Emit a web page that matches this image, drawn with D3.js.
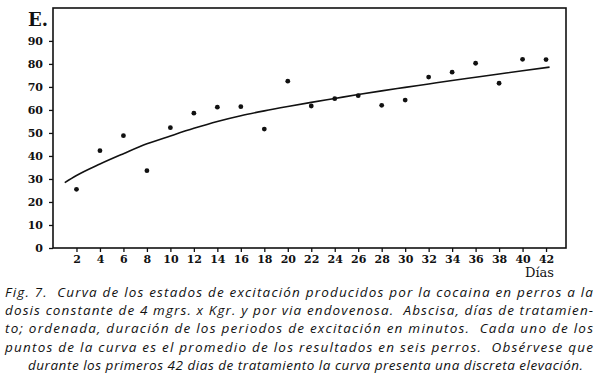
<!DOCTYPE html>
<html>
<head>
<meta charset="utf-8">
<script src="https://cdn.jsdelivr.net/npm/d3@7"></script>
<style>
  body { margin: 0; background: #fff; }
  .tick text { font-family: "DejaVu Serif", serif; font-weight: bold; }
</style>
</head>
<body>
<div id="chart"></div>
<script>
// days of treatment and mean excitation time (minutes)
var days = [2, 4, 6, 8, 10, 12, 14, 16, 18, 20, 22, 24, 26, 28, 30, 32, 34, 36, 38, 40, 42];
var excitation = [25.5, 42.3, 48.8, 33.6, 52.3, 58.6, 61.2, 61.4, 51.7, 72.5, 61.7, 64.9, 66.2, 62.0, 64.3, 74.3, 76.4, 80.3, 71.6, 82.0, 81.9];

// fitted curve
var curveDays = [1, 2, 4, 6, 8, 10, 12, 14, 16, 18, 20, 22, 24, 26, 28, 30, 32, 34, 36, 38, 40, 42.3];
var curveVals = [28.4, 31.5, 36.5, 41, 45.3, 48.7, 52, 55, 57.5, 59.6, 61.5, 63.3, 65, 66.7, 68.3, 69.8, 71.3, 72.8, 74.2, 75.6, 77, 78.6];

var xTicks = d3.range(2, 43, 2);
var yTicks = d3.range(0, 91, 10);

var caption = [
  "Fig. 7.  Curva de los estados de excitación producidos por la cocaina en perros a la",
  "dosis constante de 4 mgrs. x Kgr. y por via endovenosa.  Abscisa, días de tratamien-",
  "to; ordenada, duración de los periodos de excitación en minutos.  Cada uno de los",
  "puntos de la curva es el promedio de los resultados en seis perros.  Obsérvese que",
  "durante los primeros 42 dias de tratamiento la curva presenta una discreta elevación."
];

var width = 600, height = 377;
var plotLeft = 53, plotRight = 566, plotTop = 8, plotBottom = 248;

var svg = d3.select("#chart").append("svg")
    .attr("width", width)
    .attr("height", height);

var x = d3.scaleLinear().domain([0, 43.7]).range([plotLeft, plotRight]);
var y = d3.scaleLinear().domain([0, 104.3]).range([plotBottom, plotTop]);

// frame
svg.append("rect")
    .attr("x", plotLeft).attr("y", plotTop)
    .attr("width", plotRight - plotLeft).attr("height", plotBottom - plotTop)
    .attr("fill", "none").attr("stroke", "#111").attr("stroke-width", 1.6);

// axes
svg.append("g")
    .attr("transform", "translate(0," + plotBottom + ")")
    .call(d3.axisBottom(x).tickValues(xTicks).tickSize(4).tickPadding(3).tickFormat(d3.format("d")))
    .call(g => g.select(".domain").remove())
    .call(g => g.selectAll(".tick line").attr("stroke", "#111").attr("stroke-width", 1.3))
    .call(g => g.selectAll(".tick text").attr("font-size", 11).attr("fill", "#111"));

svg.append("g")
    .attr("transform", "translate(" + plotLeft + ",0)")
    .call(d3.axisLeft(y).tickValues(yTicks).tickSize(4).tickPadding(6).tickFormat(d3.format("d")))
    .call(g => g.select(".domain").remove())
    .call(g => g.selectAll(".tick line").attr("stroke", "#111").attr("stroke-width", 1.3))
    .call(g => g.selectAll(".tick text").attr("font-size", 11).attr("fill", "#111"));

// axis labels
svg.append("text")
    .attr("x", 28).attr("y", 26)
    .attr("font-family", "DejaVu Serif, serif")
    .attr("font-weight", "bold")
    .attr("font-size", 18)
    .attr("fill", "#111")
    .text("E.");

svg.append("text")
    .attr("x", 525).attr("y", 277)
    .attr("font-family", "DejaVu Serif, serif")
    .attr("font-size", 13)
    .attr("fill", "#111")
    .text("Días");

// fitted curve
var line = d3.line()
    .x((d, i) => x(curveDays[i]))
    .y(d => y(d))
    .curve(d3.curveMonotoneX);

svg.append("path")
    .datum(curveVals)
    .attr("d", line)
    .attr("fill", "none")
    .attr("stroke", "#111")
    .attr("stroke-width", 1.6);

// data points
svg.selectAll("circle.pt")
    .data(excitation)
    .enter()
    .append("circle")
    .attr("class", "pt")
    .attr("cx", (d, i) => x(days[i]))
    .attr("cy", d => y(d))
    .attr("r", 2.4)
    .attr("fill", "#111");

// caption
var baselines = [297, 315, 333, 352, 370];
caption.forEach(function(t, i) {
    var txt = svg.append("text")
        .attr("y", baselines[i])
        .attr("font-family", "Open Sans, sans-serif")
        .attr("font-style", "italic")
        .attr("font-size", 13.5)
        .attr("fill", "#111")
        .attr("xml:space", "preserve")
        .attr("lengthAdjust", "spacing")
        .text(t);
    if (i < 4) {
        txt.attr("x", 5).attr("textLength", 588);
    } else {
        txt.attr("x", 28).attr("textLength", 555);
    }
});
</script>
</body>
</html>
